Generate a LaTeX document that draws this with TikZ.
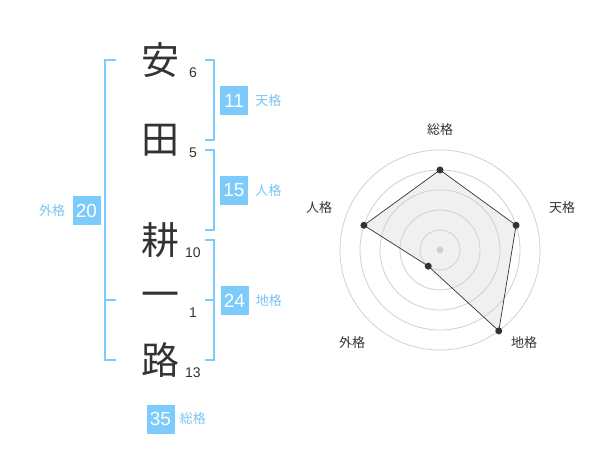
\documentclass[tikz,border=0pt]{standalone}
\usepackage{fontspec}
\setmainfont{Liberation Sans}
\newfontfamily\jp{Noto Sans CJK JP}
\usetikzlibrary{positioning}
\definecolor{kakublue}{RGB}{125,203,250}
\definecolor{kakutext}{RGB}{120,196,242}
\definecolor{ink}{RGB}{51,51,51}
\definecolor{ringgray}{RGB}{208,208,208}
\definecolor{areagray}{RGB}{240,240,240}

\begin{document}
\begin{tikzpicture}[x=1pt, y=-1pt,
    char/.style={font=\jp\fontsize{38}{38}\selectfont, text=ink, inner sep=0pt},
    strokes/.style={font=\fontsize{14}{14}\selectfont, text=ink, inner sep=0pt},
    kakubox/.style={fill=kakublue, text=white, minimum width=28pt, minimum height=29pt,
        inner sep=0pt, font=\fontsize{19}{19}\selectfont},
    kakulabel/.style={text=kakutext, font=\jp\fontsize{13}{13}\selectfont, inner sep=0pt},
    bracket/.style={kakublue, line width=2pt},
    axislabel/.style={text=ink, font=\jp\fontsize{13}{13}\selectfont, inner sep=0pt}]
    \useasboundingbox (0,0) rectangle (600,470);
    % Name
    %% Characters
    \foreach \c/\s/\y/\i in {安/6/60/1, 田/5/140/2, 耕/10/240/3, 一/1/300/4, 路/13/360/5} {
        \node [char] (ch\i) at (160,\y) {\c};
        \node [strokes] (st\i) at (193,\y+13) {\s};
    }
    %% Brackets
    \draw [bracket] (116,60) -- (105,60) -- (105,360) -- (116,360)
        (105,300) -- (116,300);
    \draw [bracket] (205,60) -- (214,60) -- (214,140) -- (205,140);
    \draw [bracket] (205,150) -- (214,150) -- (214,230) -- (205,230);
    \draw [bracket] (205,240) -- (214,240) -- (214,360) -- (205,360)
        (205,300) -- (214,300);
    %% Scores
    \node [kakubox] (ten) at (234,100.5) {11};
    \node [kakulabel, right=7pt of ten] (tenl) {天格};
    \node [kakubox] (jin) at (234,190.5) {15};
    \node [kakulabel, right=7pt of jin] (jinl) {人格};
    \node [kakubox] (chi) at (234.5,300.5) {24};
    \node [kakulabel, right=7pt of chi] (chil) {地格};
    \node [kakubox] (gai) at (86.5,210.5) {20};
    \node [kakulabel, left=7pt of gai] (gail) {外格};
    \node [kakubox] (sou) at (160.5,419) {35};
    \node [kakulabel, right=5pt of sou] (soul) {総格};

    % Radar
    \begin{scope}[shift={(440,250)}, yscale=-1]
    \coordinate (p1) at (90:80);
    \coordinate (p2) at (18:80);
    \coordinate (p3) at (-54:100);
    \coordinate (p4) at (234:20);
    \coordinate (p5) at (162:80);
    %% Area
    \fill [areagray] (p1) -- (p2) -- (p3) -- (p4) -- (p5) -- cycle;
    %% Rings
    \foreach \r in {20,40,...,100}
        \draw [ringgray, line width=0.8pt] (0,0) circle (\r pt);
    %% Outline
    \draw [ink, line width=0.7pt] (p1) -- (p2) -- (p3) -- (p4) -- (p5) -- cycle;
    \foreach \i in {1,...,5}
        \fill [ink] (p\i) circle (3.5pt);
    \fill [ringgray] (0,0) circle (3.5pt);
    %% Annotations
    \node [axislabel] (asou) at (0,120) {総格};
    \node [axislabel] (aten) at (122,42) {天格};
    \node [axislabel] (achi) at (84,-93) {地格};
    \node [axislabel] (agai) at (-88,-93) {外格};
    \node [axislabel] (ajin) at (-121,42) {人格};
    \end{scope}
\end{tikzpicture}
\end{document}
